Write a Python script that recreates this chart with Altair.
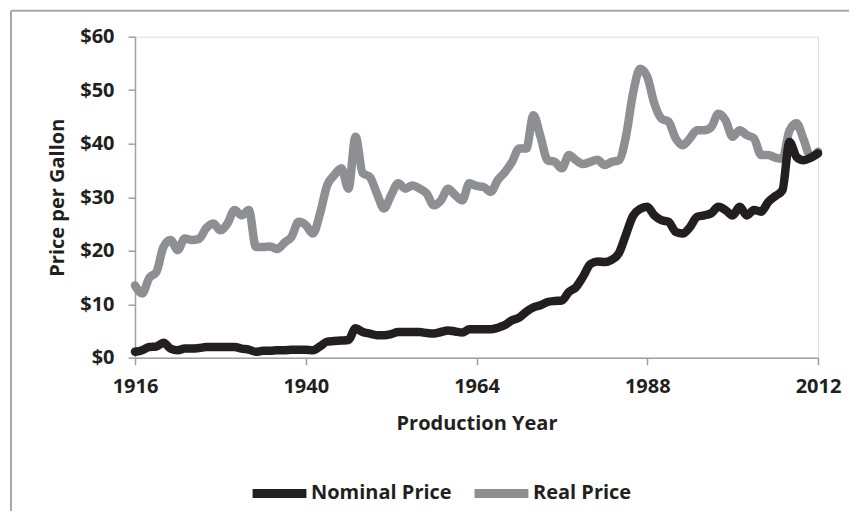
import altair as alt
import pandas as pd

years = list(range(1916, 2013))

real_price = [
    13.5, 12.0, 14.9, 16.0, 20.7, 22.0, 20.1, 22.3, 22.0, 22.2,   # 1916-1925
    24.2, 25.1, 23.8, 25.1, 27.6, 26.6, 27.6, 20.7, 20.7, 20.8,   # 1926-1935
    20.3, 21.5, 22.6, 25.4, 24.8, 23.2, 26.9, 32.2, 34.1, 35.4,   # 1936-1945
    31.6, 41.3, 34.5, 33.8, 30.7, 27.9, 30.4, 32.6, 31.6, 32.2,   # 1946-1955
    31.6, 30.7, 28.5, 29.4, 31.6, 30.4, 29.4, 32.6, 32.1, 31.9,   # 1956-1965
    31.0, 33.2, 34.7, 36.6, 39.1, 39.1, 45.3, 41.3, 36.9, 36.6,   # 1966-1975
    35.4, 37.9, 36.9, 36.2, 36.6, 37.0, 36.0, 36.6, 36.9, 41.3,   # 1976-1985
    49.4, 54.0, 52.5, 47.5, 44.7, 44.1, 41.0, 39.7, 41.0, 42.5,   # 1986-1995
    42.5, 43.1, 45.6, 44.4, 41.3, 42.5, 41.6, 41.0, 37.9, 37.9,   # 1996-2005
    37.4, 37.2, 42.5, 43.8, 40.7, 37.5, 38.5,                     # 2006-2012
]

nominal_price = [
    1.1, 1.4, 2.0, 2.1, 2.8, 1.7, 1.4, 1.7, 1.7, 1.8,             # 1916-1925
    2.0, 2.0, 2.0, 2.0, 2.0, 1.7, 1.5, 1.1, 1.3, 1.3,             # 1926-1935
    1.4, 1.4, 1.5, 1.5, 1.5, 1.4, 2.1, 3.0, 3.1, 3.2,             # 1936-1945
    3.3, 5.5, 4.8, 4.5, 4.2, 4.2, 4.4, 4.8, 4.8, 4.8,             # 1946-1955
    4.8, 4.6, 4.5, 4.8, 5.1, 4.9, 4.7, 5.3, 5.3, 5.3,             # 1956-1965
    5.3, 5.6, 6.1, 7.0, 7.5, 8.6, 9.4, 9.8, 10.4, 10.6,           # 1966-1975
    10.7, 12.3, 13.2, 15.2, 17.5, 18.0, 17.9, 18.3, 19.5, 23.0,   # 1976-1985
    26.5, 27.8, 28.2, 26.6, 25.7, 25.4, 23.5, 23.2, 24.4, 26.3,   # 1986-1995
    26.6, 27.0, 28.2, 27.6, 26.6, 28.2, 26.6, 27.6, 27.3, 29.1,   # 1996-2005
    30.2, 31.3, 40.3, 37.5, 36.9, 37.4, 38.2,                     # 2006-2012
]

series_names = ["Nominal Price", "Real Price"]
series_colors = ["#231f20", "#8e8f92"]
x_ticks = [1916, 1940, 1964, 1988, 2012]
y_ticks = [0, 10, 20, 30, 40, 50, 60]

df_nom = pd.DataFrame({"year": years, "price": nominal_price, "series": "Nominal Price"})
df_real = pd.DataFrame({"year": years, "price": real_price, "series": "Real Price"})

FONT = "Open Sans"
TXT = "#231f20"
AX = "#a0a0a0"

x_enc = alt.X(
    "year:Q",
    scale=alt.Scale(domain=[1916, 2012], nice=False, zero=False),
    axis=alt.Axis(
        values=x_ticks, format="d", title="Production Year", grid=False,
        labelFont=FONT, labelFontSize=20, labelFontWeight="bold", labelColor=TXT,
        titleFont=FONT, titleFontSize=20, titleFontWeight="bold", titleColor=TXT,
        domainColor=AX, domainWidth=1.5, tickColor=AX, tickWidth=1.5, tickSize=7,
        labelPadding=12, titlePadding=17, labelFlush=False,
    ),
)
y_enc = alt.Y(
    "price:Q",
    scale=alt.Scale(domain=[0, 60], nice=False),
    axis=alt.Axis(
        values=y_ticks, format="$,.0f", title="Price per Gallon", grid=False,
        labelFont=FONT, labelFontSize=20, labelFontWeight="bold", labelColor=TXT,
        titleFont=FONT, titleFontSize=20, titleFontWeight="bold", titleColor=TXT,
        domainColor=AX, domainWidth=1.5, tickColor=AX, tickWidth=1.5, tickSize=7,
        labelPadding=14, titlePadding=12,
    ),
)
color_enc = alt.Color(
    "series:N",
    scale=alt.Scale(domain=series_names, range=series_colors),
    legend=alt.Legend(
        title=None, orient="none", direction="horizontal",
        legendX=113, legendY=425,
        symbolType="stroke", symbolSize=2900, symbolStrokeWidth=9,
        labelFont=FONT, labelFontSize=20, labelFontWeight="bold", labelColor=TXT,
        labelOffset=0, columnPadding=4,
    ),
)

line_kw = dict(strokeWidth=8.5, strokeCap="round", strokeJoin="round", interpolate="monotone")

real_line = alt.Chart(df_real).mark_line(**line_kw).encode(x=x_enc, y=y_enc, color=color_enc)
nom_line = alt.Chart(df_nom).mark_line(**line_kw).encode(x=x_enc, y=y_enc, color=color_enc)

frame_df = pd.DataFrame({"k": [0]})
frame_left = alt.Chart(frame_df).mark_rule(color="#a8a8a8", strokeWidth=2).encode(
    x=alt.value(-124), y=alt.value(-26), y2=alt.value(700)
)
frame_top = alt.Chart(frame_df).mark_rule(color="#a8a8a8", strokeWidth=2).encode(
    x=alt.value(-124), x2=alt.value(900), y=alt.value(-26)
)

chart = alt.layer(frame_left, frame_top, real_line, nom_line).properties(
    width=683, height=321,
    autosize=alt.AutoSizeParams(type="none"),
    padding={"left": 127, "top": 28.7, "right": 31, "bottom": 153},
).configure_view(stroke=None).configure(background="white")

chart.save("out.html", embed_options={"renderer": "svg", "actions": False})
